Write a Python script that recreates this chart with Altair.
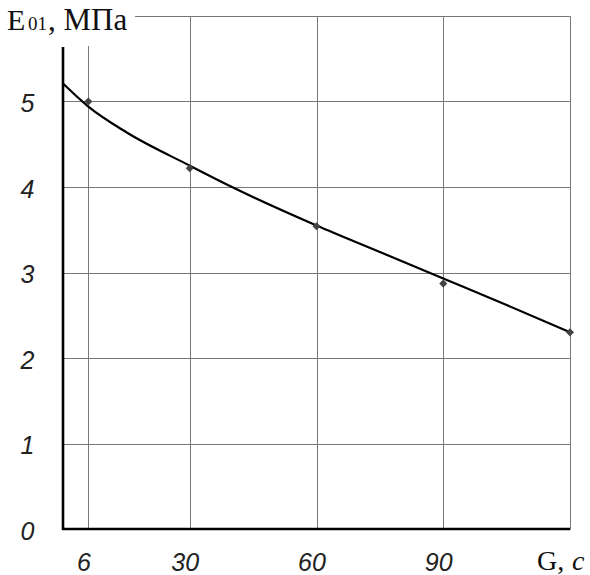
import altair as alt
import pandas as pd

# measured points
x_points = [6, 30, 60, 90, 120]
y_points = [5.0, 4.22, 3.54, 2.87, 2.3]

# fitted curve
curve_x = [0, 6, 15, 30, 40, 60, 75, 90, 105, 120]
curve_y = [5.21, 4.94, 4.64, 4.25, 4.0, 3.55, 3.24, 2.93, 2.62, 2.3]

x_ticks = [6, 30, 60, 90, 120]
y_ticks = [0, 1, 2, 3, 4, 5, 6]

W, H = 507, 513

pts = pd.DataFrame({"G": x_points, "E": y_points})
crv = pd.DataFrame({"G": curve_x, "E": curve_y})

xscale = alt.Scale(domain=[0, 120], nice=False, zero=False)
yscale = alt.Scale(domain=[0, 6], nice=False)

LABEL_FONT = "Liberation Sans Narrow, Liberation Sans"

xaxis = alt.Axis(values=x_ticks, title=None, grid=True, gridColor="#777", gridWidth=1,
                 gridOpacity=1, ticks=False, domain=False, labelFont=LABEL_FONT,
                 labelFontStyle="italic", labelFontSize=25, labelColor="#222",
                 labelPadding=21, labelOffset=-5, format="d",
                 labelExpr="datum.value == 120 ? '' : datum.label")
yaxis = alt.Axis(values=y_ticks, title=None, grid=True, gridColor="#777", gridWidth=1,
                 gridOpacity=1, ticks=False, domain=False, labelFont=LABEL_FONT,
                 labelFontStyle="italic", labelFontSize=25, labelColor="#222",
                 labelPadding=29, labelOffset=2, format="d",
                 labelExpr="datum.value == 6 ? '' : datum.label")

one = alt.Data(values=[{}])

line = alt.Chart(crv).mark_line(color="black", strokeWidth=2.2, interpolate="monotone").encode(
    x=alt.X("G:Q", scale=xscale, axis=xaxis),
    y=alt.Y("E:Q", scale=yscale, axis=yaxis),
)

points = alt.Chart(pts).mark_point(shape="diamond", filled=True, size=65, color="#444", opacity=1).encode(
    x=alt.X("G:Q", scale=xscale),
    y=alt.Y("E:Q", scale=yscale),
)

white_box = alt.Chart(one).mark_rect(color="white").encode(
    x=alt.value(-63), x2=alt.value(72), y=alt.value(-16), y2=alt.value(30)
)

x_axis_line = alt.Chart(one).mark_rule(color="black", strokeWidth=2.6).encode(
    x=alt.value(-1), x2=alt.value(W), y=alt.value(H)
)
y_axis_line = alt.Chart(one).mark_rule(color="black", strokeWidth=2.6).encode(
    x=alt.value(0), y=alt.value(31), y2=alt.value(H + 1)
)

def txt(s, x, y, size, style="normal"):
    return alt.Chart(one).mark_text(
        text=s, font="Liberation Serif", fontSize=size, fontStyle=style,
        align="left", baseline="alphabetic", color="#111"
    ).encode(x=alt.value(x), y=alt.value(y))

title_E = txt("E", -56, 14, 30)
title_01 = txt("01", -35, 14, 19)
title_rest = txt(", МПа", -15, 14, 31)
lab_G = txt("G,", 474, 554, 28)
lab_c = txt("c", 509, 554, 28, "italic")

chart = alt.layer(
    line, white_box, x_axis_line, y_axis_line, points,
    title_E, title_01, title_rest, lab_G, lab_c
).properties(
    width=W, height=H,
    padding={"left": 63, "top": 16, "right": 20, "bottom": 46},
    autosize=alt.AutoSizeParams(type="none"),
    background="white",
).configure_view(stroke=None)

chart.save("out.html", embed_options={"renderer": "svg", "actions": False})
